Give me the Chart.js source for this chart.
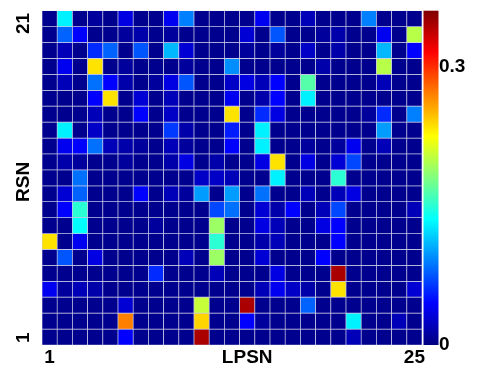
<!DOCTYPE html>
<html>
<head>
<meta charset="utf-8">
<script src="https://cdn.jsdelivr.net/npm/chart.js@4.4.1/dist/chart.umd.min.js"></script>
<style>
  html, body { margin: 0; padding: 0; background: #fff; }
</style>
</head>
<body>
<canvas id="heatmap" width="478" height="373"></canvas>
<script>
// LPSN columns (x) and RSN rows (y)
const lpsn = ['1','2','3','4','5','6','7','8','9','10','11','12','13','14','15','16','17','18','19','20','21','22','23','24','25'];
const rsn = [21,20,19,18,17,16,15,14,13,12,11,10,9,8,7,6,5,4,3,2,1];

// cell values, one row per RSN, top row (21) first
const cells = [
  [.005,.13,.005,.01,.005,.035,.005,.005,.04,.09,.005,.005,.005,.005,.04,.005,.005,.02,.005,.005,.005,.09,.005,.005,.005],
  [.005,.08,.045,.005,.005,.01,.015,.005,.01,.005,.005,.005,.005,.03,.005,.075,.005,.005,.01,.015,.005,.005,.04,.005,.2],
  [.005,.02,.005,.06,.08,.005,.075,.005,.11,.03,.005,.005,.005,.01,.005,.01,.005,.025,.005,.015,.005,.005,.11,.005,.045],
  [.005,.04,.005,.235,.005,.01,.005,.005,.005,.01,.005,.005,.095,.005,.005,.005,.005,.005,.015,.005,.005,.005,.2,.005,.005],
  [.005,.02,.005,.085,.045,.015,.005,.01,.035,.075,.005,.005,.025,.035,.02,.045,.005,.165,.005,.005,.005,.005,.02,.005,.005],
  [.005,.005,.005,.045,.235,.005,.03,.005,.02,.005,.005,.005,.04,.005,.015,.045,.005,.13,.005,.005,.005,.005,.005,.005,.005],
  [.005,.005,.005,.02,.005,.005,.045,.005,.025,.005,.005,.005,.235,.005,.06,.035,.005,.005,.005,.005,.005,.01,.06,.005,.09],
  [.005,.13,.005,.025,.005,.005,.005,.005,.065,.015,.005,.005,.055,.005,.13,.005,.005,.005,.005,.005,.005,.005,.1,.005,.005],
  [.005,.04,.045,.085,.02,.015,.01,.005,.02,.01,.005,.005,.045,.005,.13,.005,.005,.01,.005,.01,.04,.005,.02,.005,.005],
  [.005,.015,.01,.005,.005,.01,.005,.005,.015,.035,.005,.015,.005,.005,.035,.235,.005,.035,.005,.03,.07,.005,.005,.005,.005],
  [.005,.005,.085,.005,.005,.005,.005,.005,.005,.005,.025,.025,.02,.005,.005,.13,.005,.005,.005,.15,.005,.005,.005,.005,.005],
  [.005,.03,.08,.005,.005,.005,.045,.005,.02,.01,.1,.005,.1,.005,.085,.005,.005,.02,.005,.02,.035,.005,.005,.005,.005],
  [.005,.045,.15,.005,.005,.005,.005,.005,.005,.005,.005,.07,.085,.005,.03,.015,.045,.005,.02,.07,.005,.005,.005,.005,.02],
  [.005,.005,.135,.005,.005,.005,.005,.01,.005,.005,.005,.19,.005,.005,.035,.02,.005,.005,.035,.045,.005,.005,.005,.005,.005],
  [.235,.005,.04,.005,.005,.005,.005,.005,.005,.005,.005,.15,.005,.005,.015,.02,.005,.005,.005,.045,.005,.005,.005,.005,.005],
  [.005,.075,.005,.035,.005,.005,.005,.005,.005,.02,.005,.19,.005,.005,.03,.005,.005,.005,.045,.005,.005,.005,.005,.005,.005],
  [.005,.005,.005,.005,.005,.005,.005,.06,.005,.005,.005,.02,.005,.005,.005,.035,.005,.005,.005,.345,.005,.005,.005,.005,.005],
  [.04,.01,.02,.015,.005,.005,.005,.005,.005,.005,.005,.005,.005,.005,.02,.04,.025,.015,.005,.235,.005,.005,.005,.005,.03],
  [.005,.005,.005,.005,.005,.03,.005,.005,.005,.005,.205,.005,.005,.345,.005,.005,.005,.08,.005,.005,.005,.005,.005,.005,.005],
  [.005,.005,.005,.005,.005,.27,.005,.005,.005,.005,.24,.005,.005,.045,.01,.005,.005,.005,.005,.005,.13,.005,.005,.02,.005],
  [.005,.005,.005,.005,.005,.045,.005,.005,.005,.005,.345,.005,.005,.005,.005,.005,.005,.005,.005,.005,.02,.005,.005,.005,.005]
];

// colour bar range and labels
const colorMax = 0.36;
const colorTicks = [0, 0.3];

// axis labels as they sit in the figure
const xLabels = { 0: '1', 13: 'LPSN', 24: '25' };
const yLabelPos = [0.45, 10.25, 20.2];
const yLabelText = ['1', 'RSN', '21'];

function clamp(v) { return Math.max(0, Math.min(1, v)); }

// matlab style jet colormap
function jet(v) {
    const t = clamp(v / colorMax);
    const r = clamp(1.5 - Math.abs(4 * t - 3));
    const g = clamp(1.5 - Math.abs(4 * t - 2));
    const b = clamp(1.5 - Math.abs(4 * t - 1));
    return 'rgb(' + Math.round(r * 255) + ',' + Math.round(g * 255) + ',' + Math.round(b * 255) + ')';
}

// fixed axis sizes so the plot lands where the figure has it
function fixSize(size) {
    return function (s) {
        if (s.isHorizontal()) s.height = size; else s.width = size;
        s.paddingTop = s.paddingBottom = s.paddingLeft = s.paddingRight = 0;
    };
}

// one floating bar dataset per RSN row
const datasets = cells.map(function (row, i) {
    const r = rsn[i];
    return {
        label: 'RSN ' + r,
        data: row.map(function () { return [r - 1, r]; }),
        backgroundColor: row.map(jet),
        borderColor: '#c8c8e4',
        borderWidth: 0.7,
        borderSkipped: false,
        grouped: false,
        barPercentage: 1,
        categoryPercentage: 1
    };
});

const colorbar = {
    id: 'colorbar',
    afterDatasetsDraw(chart) {
        const ctx = chart.ctx;
        const s = chart.scales.y2;
        const top = s.getPixelForValue(colorMax);
        const bottom = s.getPixelForValue(0);
        const grad = ctx.createLinearGradient(0, bottom, 0, top);
        for (let i = 0; i <= 40; i++) {
            grad.addColorStop(i / 40, jet(colorMax * i / 40));
        }
        ctx.save();
        ctx.fillStyle = grad;
        ctx.fillRect(chart.chartArea.right + 1.5, top, 15, bottom - top);
        ctx.restore();
    }
};

Chart.defaults.font.family = '"Liberation Sans", Arial, sans-serif';
Chart.defaults.font.size = 19;
Chart.defaults.font.weight = 'bold';
Chart.defaults.color = '#000';

new Chart(document.getElementById('heatmap'), {
    type: 'bar',
    data: { labels: lpsn, datasets: datasets },
    plugins: [colorbar],
    options: {
        responsive: false,
        animation: false,
        layout: { padding: { left: 0, right: 0, top: 10.7, bottom: 0 } },
        plugins: { legend: { display: false }, tooltip: { enabled: false } },
        scales: {
            x: {
                grid: { display: false, drawTicks: false },
                border: { display: false },
                afterFit: fixSize(28),
                ticks: {
                    autoSkip: false,
                    maxRotation: 0,
                    padding: 1,
                    callback: function (v, i) { return xLabels[i] || ''; }
                }
            },
            y: {
                min: 0,
                max: 21,
                grid: { display: false, drawTicks: false },
                border: { display: false },
                afterFit: fixSize(42),
                afterBuildTicks: function (s) { s.ticks = yLabelPos.map(function (v) { return { value: v }; }); },
                ticks: {
                    minRotation: 90,
                    maxRotation: 90,
                    crossAlign: 'center',
                    padding: -1.5,
                    callback: function (v, i) { return yLabelText[i]; }
                }
            },
            y2: {
                position: 'right',
                min: 0,
                max: colorMax,
                grid: { display: false, drawTicks: false },
                border: { display: false },
                afterFit: fixSize(56),
                afterBuildTicks: function (s) { s.ticks = colorTicks.map(function (v) { return { value: v }; }); },
                ticks: {
                    padding: 17,
                    callback: function (v) { return String(v); }
                }
            }
        }
    }
});
</script>
</body>
</html>
